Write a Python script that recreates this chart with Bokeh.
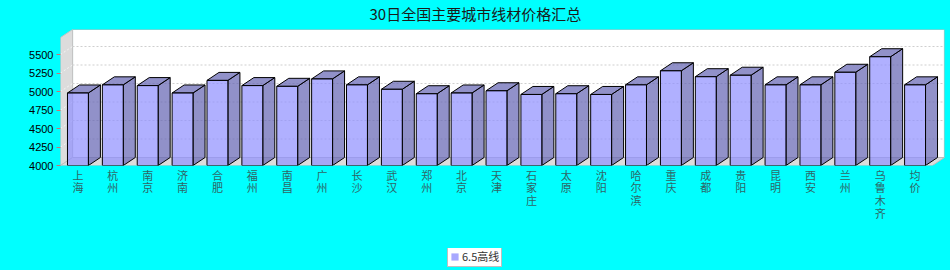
from bokeh.plotting import figure
from bokeh.layouts import column
from bokeh.models import (Range1d, FixedTicker, ColumnDataSource, Legend, LegendItem)
from bokeh.embed import file_html
from bokeh.resources import INLINE

# ---------------- data ----------------
cities = ["上海", "杭州", "南京", "济南", "合肥", "福州", "南昌", "广州", "长沙", "武汉",
          "郑州", "北京", "天津", "石家庄", "太原", "沈阳", "哈尔滨", "重庆", "成都", "贵阳",
          "昆明", "西安", "兰州", "乌鲁木齐", "均价"]
prices = [4980, 5090, 5080, 4980, 5150, 5080, 5070, 5170, 5090, 5030,
          4970, 4980, 5010, 4960, 4970, 4960, 5090, 5280, 5200, 5220,
          5090, 5090, 5260, 5470, 5090]
series_name = "6.5高线"
title_text = "30日全国主要城市线材价格汇总"
y_ticks = [4000, 4250, 4500, 4750, 5000, 5250, 5500]

# ---------------- geometry (3D look) ----------------
W, H_TITLE, H_LEG = 950, 29, 22
H_MAIN = 270 - H_TITLE - H_LEG
LEFT, RIGHT = 60, 6
BOTTOM = H_MAIN - (165 - H_TITLE)
frame_w = W - LEFT - RIGHT
frame_h = H_MAIN - BOTTOM
n = len(cities)
OFF_X_PX, OFF_Y_PX = 12, 8
px_per_cat = (frame_w - OFF_X_PX) / n
DX = OFF_X_PX / px_per_cat
units_per_px = 1500 / 111.0
DY = OFF_Y_PX * units_per_px
Y0 = 4000
YEND = Y0 + frame_h * units_per_px
X1 = n
BW = 0.6
BG = "#00ffff"

# ---------------- title strip ----------------
tt = figure(width=W, height=H_TITLE, output_backend="svg", toolbar_location=None,
            x_axis_type=None, y_axis_type=None,
            x_range=Range1d(0, 1), y_range=Range1d(0, 1),
            min_border_left=0, min_border_right=0, min_border_top=0, min_border_bottom=0)
tt.background_fill_alpha = 0
tt.border_fill_alpha = 0
tt.outline_line_color = None
tt.grid.visible = False
tt.title.text = title_text
tt.title.align = "left"
tt.title.offset = 309
tt.title.text_font = "Noto Sans CJK SC"
tt.title.text_font_size = "15px"
tt.title.text_font_style = "normal"
tt.title.text_color = "#1a1a1a"
tt.title.standoff = 0

# ---------------- main plot ----------------
p = figure(width=W, height=H_MAIN, output_backend="svg", toolbar_location=None,
           x_range=Range1d(0, X1 + DX), y_range=Range1d(Y0, YEND),
           min_border_left=LEFT, min_border_right=RIGHT,
           min_border_top=0, min_border_bottom=BOTTOM)
p.background_fill_color = BG
p.border_fill_color = BG
p.outline_line_color = None
p.grid.visible = False

# back wall
p.patch([DX, X1 + DX, X1 + DX, DX], [Y0 + DY, Y0 + DY, YEND, YEND],
        fill_color="white", line_color="#8fb8b8", line_width=1.2)
# left wall
p.patch([0, DX, DX, 0], [Y0, Y0 + DY, YEND, YEND - DY],
        fill_color="#dcdcdc", line_color="#c4c4c4", line_width=1)
# floor
p.patch([0, X1, X1 + DX, DX], [Y0, Y0, Y0 + DY, Y0 + DY],
        fill_color="#dcdcdc", line_color="#bdbdbd", line_width=1)

# grid lines on the walls
grid_vals = [v for v in y_ticks if v > Y0]
p.segment(x0=[DX] * len(grid_vals), y0=[v + DY for v in grid_vals],
          x1=[X1 + DX] * len(grid_vals), y1=[v + DY for v in grid_vals],
          line_color="#cfcfcf", line_dash="2 2", line_width=1)
p.segment(x0=[0] * len(grid_vals), y0=grid_vals,
          x1=[DX] * len(grid_vals), y1=[v + DY for v in grid_vals],
          line_color="#f4f4f4", line_dash="2 2", line_width=1)

# bars
xl = [i + (1 - BW) / 2 for i in range(n)]
xr = [x + BW for x in xl]
side_xs = [[r, r + DX, r + DX, r] for r in xr]
side_ys = [[Y0, Y0 + DY, v + DY, v] for v in prices]
top_xs = [[l, l + DX, r + DX, r] for l, r in zip(xl, xr)]
top_ys = [[v, v + DY, v + DY, v] for v in prices]
p.patches(side_xs, side_ys, fill_color=(99, 99, 178), fill_alpha=0.7,
          line_color="black", line_width=1)
p.patches(top_xs, top_ys, fill_color=(99, 99, 178), fill_alpha=0.7,
          line_color="black", line_width=1)
src = ColumnDataSource(dict(left=xl, right=xr, top=prices, bottom=[Y0] * n))
p.quad(left="left", right="right", top="top", bottom="bottom", source=src,
       fill_color=(142, 142, 255), fill_alpha=0.7, line_color="black", line_width=1)

# axes
xa = p.xaxis[0]
ticks = [i + 0.5 for i in range(n)]
xa.ticker = FixedTicker(ticks=ticks)
xa.major_label_overrides = {t: "\n".join(list(c)) for t, c in zip(ticks, cities)}
xa.axis_line_color = None
xa.major_tick_line_color = None
xa.minor_tick_line_color = None
xa.major_tick_out = 0
xa.major_tick_in = 0
xa.major_label_standoff = 1
xa.major_label_text_font = "Noto Sans CJK SC"
xa.major_label_text_font_size = "11px"
xa.major_label_text_line_height = 0.8
xa.major_label_text_color = "#2f6666"

ya = p.yaxis[0]
ya.ticker = FixedTicker(ticks=y_ticks)
ya.axis_line_color = None
ya.major_tick_line_color = "#d07070"
ya.major_tick_out = 4
ya.major_tick_in = 0
ya.minor_tick_line_color = None
ya.major_label_standoff = 3
ya.major_label_text_font = "Liberation Sans"
ya.major_label_text_font_size = "11px"
ya.major_label_text_color = "black"

# ---------------- legend strip ----------------
lg = figure(width=W, height=H_LEG, output_backend="svg", toolbar_location=None,
            x_axis_type=None, y_axis_type=None,
            x_range=Range1d(0, 1), y_range=Range1d(0, 1),
            min_border_left=0, min_border_right=0, min_border_top=0, min_border_bottom=0)
lg.background_fill_alpha = 0
lg.border_fill_alpha = 0
lg.outline_line_color = None
lg.grid.visible = False
nan = float("nan")
swatch_src = ColumnDataSource(dict(left=[nan], right=[nan], top=[nan], bottom=[nan]))
dummy = lg.quad(left="left", right="right", top="top", bottom="bottom", source=swatch_src,
                fill_color="#a8a8ff", line_color=None)
legend = Legend(items=[LegendItem(label=series_name, renderers=[dummy])],
                location=(387, 3))
legend.border_line_color = "#808080"
legend.border_line_width = 1
legend.background_fill_color = "white"
legend.background_fill_alpha = 1
legend.label_text_font = "Noto Sans CJK SC"
legend.label_text_font_size = "11px"
legend.label_text_color = "#333333"
legend.glyph_width = 9
legend.glyph_height = 9
legend.label_height = 13
legend.label_standoff = 3
legend.padding = 2
legend.margin = 0
legend.spacing = 0
lg.add_layout(legend)

layout = column(tt, p, lg, spacing=0, styles={"background-color": BG})
open("out.html", "w").write(file_html(layout, INLINE))
